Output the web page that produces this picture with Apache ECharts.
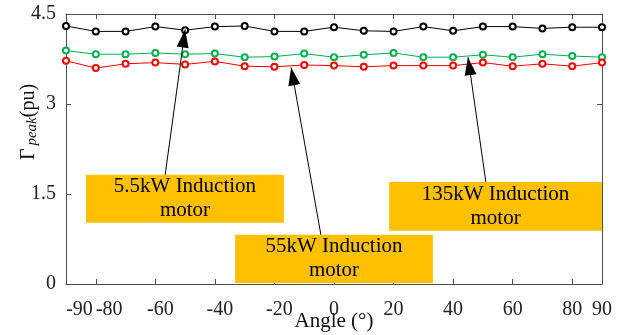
<!DOCTYPE html>
<html>
<head>
<meta charset="utf-8">
<script src="https://cdn.jsdelivr.net/npm/echarts@6/dist/echarts.min.js"></script>
<style>html,body{margin:0;padding:0;background:#fff}#c{width:627px;height:335px}</style>
</head>
<body>
<div id="c"></div>
<script>
const angles = [-90,-80,-70,-60,-50,-40,-30,-20,-10,0,10,20,30,40,50,60,70,80,90];
const motor5_5kW = [4.30,4.21,4.21,4.29,4.23,4.29,4.30,4.21,4.21,4.28,4.22,4.21,4.29,4.22,4.29,4.29,4.26,4.28,4.28];
const motor135kW = [3.89,3.83,3.83,3.85,3.83,3.84,3.78,3.79,3.84,3.78,3.82,3.85,3.78,3.78,3.82,3.78,3.83,3.80,3.78];
const motor55kW  = [3.72,3.60,3.67,3.69,3.66,3.71,3.63,3.62,3.65,3.64,3.62,3.64,3.64,3.64,3.69,3.63,3.67,3.63,3.69];
const xTickValues = [-80,-60,-40,-20,0,20,40,60,80];
const xLabelValues = [-90,-80,-60,-40,-20,0,20,40,60,80,90];
const yTickValues = [0,1.5,3,4.5];
const boxLabels = ['5.5kW Induction\nmotor','55kW Induction\nmotor','135kW Induction\nmotor'];

// annotation geometry (data coordinates)
const boxes = [
  [[-83.3,1.82],[-16.8,1.02]],
  [[-33.2,0.82],[33.2,0.017]],
  [[18.5,1.70],[90,0.886]]
];
const arrows = [
  [[-56.7,1.82],[-50,4.24]],
  [[-4.4,0.82],[-14.4,3.61]],
  [[51.0,1.70],[45.0,3.78]]
];

const FONT = '"Liberation Serif", "Times New Roman", serif';
function pairs(xs, ys){ return xs.map((x,i)=>[x,ys[i]]); }

const chart = echarts.init(document.getElementById('c'));
const axisLineStyle = {color:'#4d4d4d', width:1};
const labelRich = {
  p:{fontFamily:FONT,fontSize:20,color:'#222'},
  n:{fontFamily:FONT,fontSize:20,color:'#222',padding:[0,0,0,10]},
  e:{fontFamily:FONT,fontSize:20,color:'#222',padding:[0,0,0,27]}
};
function xLabelFmt(v){
  if (v <= -80) return '{e|' + v + '}';
  if (v < 0) return '{n|' + v + '}';
  return '{p|' + v + '}';
}
const option = {
  animation:false,
  backgroundColor:'#fff',
  textStyle:{fontFamily:FONT},
  grid:{left:66,right:25,top:14,bottom:51,containLabel:false,outerBoundsMode:'none'},
  xAxis:[{
    type:'value', min:-90, max:90, position:'bottom',
    name:'Angle (°)', nameLocation:'middle', nameGap:27, nameMoveOverlap:false,
    nameTextStyle:{fontFamily:FONT,fontSize:21,color:'#111'},
    axisLine:{show:true,onZero:false,lineStyle:axisLineStyle},
    axisTick:{show:true,inside:true,length:5,customValues:xTickValues,lineStyle:axisLineStyle},
    axisLabel:{customValues:xLabelValues,formatter:xLabelFmt,rich:labelRich,fontFamily:FONT,fontSize:20,color:'#222',margin:16,showMinLabel:true,showMaxLabel:true,hideOverlap:false},
    splitLine:{show:false}
  },{
    type:'value', min:-90, max:90, position:'top',
    axisLine:{show:true,onZero:false,lineStyle:axisLineStyle},
    axisTick:{show:true,inside:true,length:5,customValues:xTickValues,lineStyle:axisLineStyle},
    axisLabel:{show:false}, splitLine:{show:false}
  }],
  yAxis:[{
    type:'value', min:0, max:4.5, position:'left',
    name:'{g|Γ} {s|peak}{g|(pu)}', nameLocation:'middle', nameGap:26, nameMoveOverlap:false,
    nameTextStyle:{fontFamily:FONT,color:'#111',padding:[0,0,0,54],
      rich:{g:{fontFamily:FONT,fontSize:20,color:'#111'},s:{fontFamily:FONT,fontSize:15,fontStyle:'italic',color:'#111',padding:[8,0,0,0]}}},
    axisLine:{show:true,onZero:false,lineStyle:axisLineStyle},
    axisTick:{show:true,inside:true,length:5,customValues:yTickValues,lineStyle:axisLineStyle},
    axisLabel:{customValues:yTickValues,fontFamily:FONT,fontSize:20,color:'#222',margin:10},
    splitLine:{show:false}
  },{
    type:'value', min:0, max:4.5, position:'right',
    axisLine:{show:true,onZero:false,lineStyle:axisLineStyle},
    axisTick:{show:true,inside:true,length:5,customValues:yTickValues,lineStyle:axisLineStyle},
    axisLabel:{show:false}, splitLine:{show:false}
  }],
  series:[
    {
      type:'line', name:'5.5kW', data:pairs(angles,motor5_5kW),
      symbol:'emptyCircle', symbolSize:6, color:'#000',
      lineStyle:{width:1,color:'#000'}, itemStyle:{color:'#000',borderWidth:1},
      z:3,
      markArea:{
        silent:true,
        itemStyle:{color:'#FFC000'},
        label:{show:true,position:'inside',fontFamily:FONT,fontSize:21,color:'#000',lineHeight:24,align:'center',verticalAlign:'middle'},
        data:boxes.map((b,i)=>[{coord:b[0],name:boxLabels[i]},{coord:b[1]}])
      },
      markLine:{
        silent:true, animation:false,
        symbol:['none','triangle'],
        label:{show:false},
        lineStyle:{color:'#000',width:1,type:'solid'},
        itemStyle:{color:'#000'},
        data:arrows.map(a=>[{coord:a[0],symbol:'none',symbolSize:0},{coord:a[1],symbol:'triangle',symbolSize:[12,18],symbolOffset:[0,'50%']}])
      }
    },
    {
      type:'line', name:'135kW', data:pairs(angles,motor135kW),
      symbol:'emptyCircle', symbolSize:6, color:'#00B050',
      lineStyle:{width:1,color:'#00B050'}, itemStyle:{color:'#00B050',borderWidth:1}, z:3
    },
    {
      type:'line', name:'55kW', data:pairs(angles,motor55kW),
      symbol:'emptyCircle', symbolSize:6, color:'#FF0000',
      lineStyle:{width:1,color:'#FF0000'}, itemStyle:{color:'#FF0000',borderWidth:1}, z:3
    }
  ]
};
chart.setOption(option);
</script>
</body>
</html>
